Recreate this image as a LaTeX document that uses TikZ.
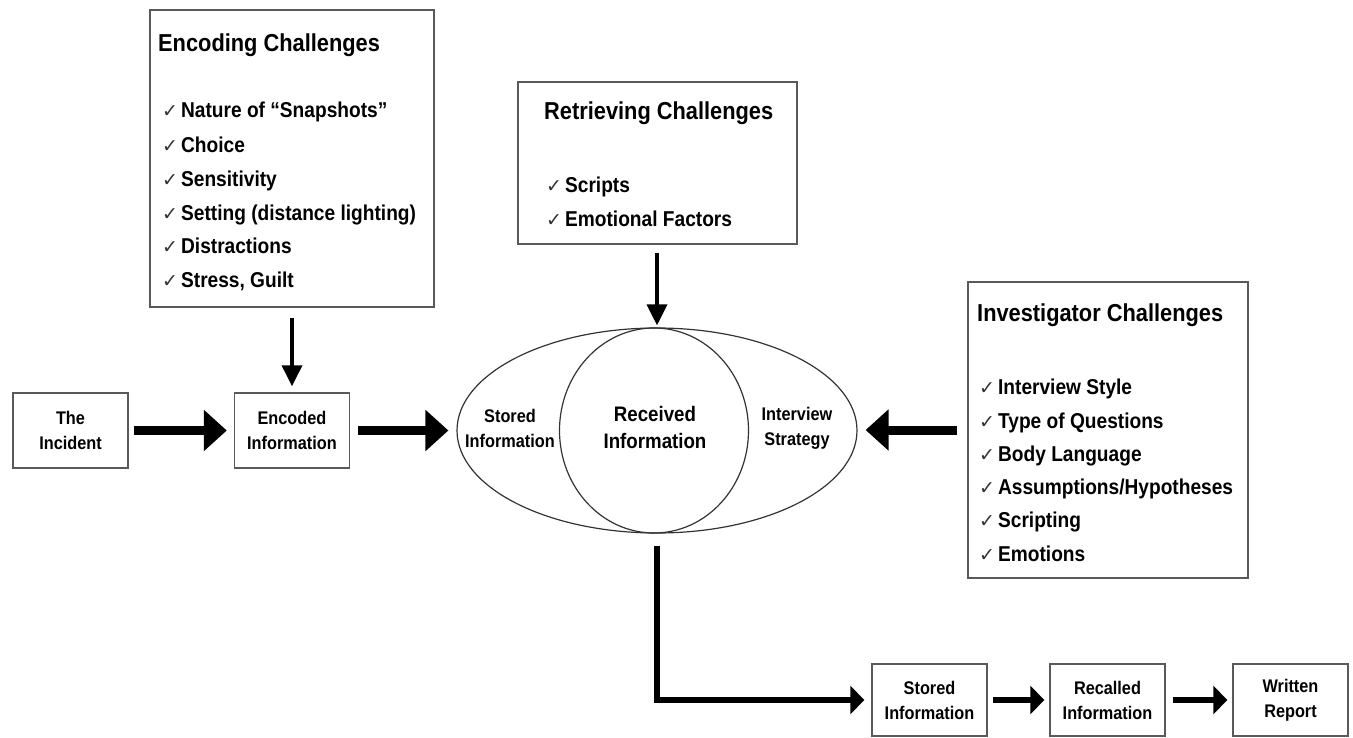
\documentclass[tikz,border=0pt]{standalone}
\usepackage{fontspec}
\setmainfont{Liberation Sans}[FakeStretch=0.89]
\newfontfamily\chk{DejaVu Sans}
\usetikzlibrary{arrows.meta,shapes.geometric}
\begin{document}
\begin{tikzpicture}[x=1pt,y=-1pt,
  box/.style={draw=black!65, line width=1.4pt, inner sep=0pt},
  smallbox/.style={box, minimum width=115pt, minimum height=75pt, align=center,
    font=\bfseries\fontsize{18.3}{25}\selectfont},
  title/.style={anchor=base west, inner sep=0pt, font=\bfseries\fontsize{24.5}{28}\selectfont},
  item/.style={anchor=base west, inner sep=0pt, font=\bfseries\fontsize{21.5}{25}\selectfont},
  lbl/.style={align=center, inner sep=0pt, font=\bfseries\fontsize{18.3}{25}\selectfont},
  bigarrow/.style={line width=9pt, -{Triangle[length=23pt,width=40pt]}},
  thinarrow/.style={line width=3.5pt, -{Triangle[length=21pt,width=20pt]}},
  midarrow/.style={line width=6.5pt, -{Triangle[length=14pt,width=28pt]}},
  ovl/.style={draw=black!80, line width=1.2pt, ellipse, inner sep=0pt}
]
\useasboundingbox (0,0) rectangle (1353,738);
\newcommand{\ck}{{\chk\fontsize{19}{19}\selectfont\color{black!80}✓}\hspace{3pt}}

% small boxes
\node[smallbox] (inc) at (70.5,430.5) {The\\Incident};
\node[smallbox] (enc) at (292,430.5) {Encoded\\Information};
\node[smallbox, minimum height=72pt] (sto) at (929.5,700) {Stored\\Information};
\node[smallbox, minimum height=72pt] (rec) at (1107.5,700) {Recalled\\Information};
\node[smallbox, minimum height=72pt] (wri) at (1290.5,700) {Written\\Report};

% Encoding challenges
\node[box, minimum width=284pt, minimum height=297pt] (ench) at (292,158.5) {};
\node[title] (encht) at (158,52) {Encoding Challenges};
\node[item] (e1) at (162,118) {\ck Nature of “Snapshots”};
\node[item] (e2) at (162,153) {\ck Choice};
\node[item] (e3) at (162,187) {\ck Sensitivity};
\node[item] (e4) at (162,221) {\ck Setting (distance lighting)};
\node[item] (e5) at (162,254) {\ck Distractions};
\node[item] (e6) at (162,288) {\ck Stress, Guilt};

% Retrieving challenges
\node[box, minimum width=279pt, minimum height=162pt] (ret) at (657.5,163) {};
\node[title] (rett) at (544,120) {Retrieving Challenges};
\node[item] (r1) at (546,193) {\ck Scripts};
\node[item] (r2) at (546,227) {\ck Emotional Factors};

% Investigator challenges
\node[box, minimum width=280pt, minimum height=296pt] (inv) at (1108,430) {};
\node[title] (invt) at (977,322) {Investigator Challenges};
\node[item] (i1) at (979,394) {\ck Interview Style};
\node[item] (i2) at (979,428) {\ck Type of Questions};
\node[item] (i3) at (979,461) {\ck Body Language};
\node[item] (i4) at (979,494) {\ck Assumptions/Hypotheses};
\node[item] (i5) at (979,527) {\ck Scripting};
\node[item] (i6) at (979,561) {\ck Emotions};

% ellipse and circle
\node[ovl, minimum width=400pt, minimum height=205pt] (ell) at (657,430.5) {};
\node[ovl, minimum width=189pt, minimum height=205pt] (circ) at (654,430.5) {};
\node[lbl] (stl) at (510,428) {Stored\\Information};
\node[lbl, font=\bfseries\fontsize{21}{27}\selectfont] (rcl) at (655,427) {Received\\Information};
\node[lbl] (isl) at (797,428) {Interview\\Strategy};

% connectors
\draw[bigarrow, shorten <=5pt, shorten >=7pt] (inc) -- (enc);
\draw[bigarrow, shorten <=8pt, shorten >=8pt] (enc.east) -- (enc.east -| ell.west);
\draw[bigarrow, shorten <=10pt, shorten >=8pt] (inv.west) -- (inv.west -| ell.east);
\draw[thinarrow, shorten <=10pt, shorten >=6pt] (ench.south -| enc.north) -- (enc.north);
\draw[thinarrow, shorten <=8pt, shorten >=2pt] (ret.south -| ell.north) -- (ell.north);
\draw[midarrow, shorten <=12pt, shorten >=7pt] (ell.south) |- (sto.west);
\draw[midarrow, shorten <=5pt, shorten >=5pt] (sto) -- (rec);
\draw[midarrow, shorten <=7pt, shorten >=5pt] (rec) -- (wri);
\end{tikzpicture}
\end{document}
